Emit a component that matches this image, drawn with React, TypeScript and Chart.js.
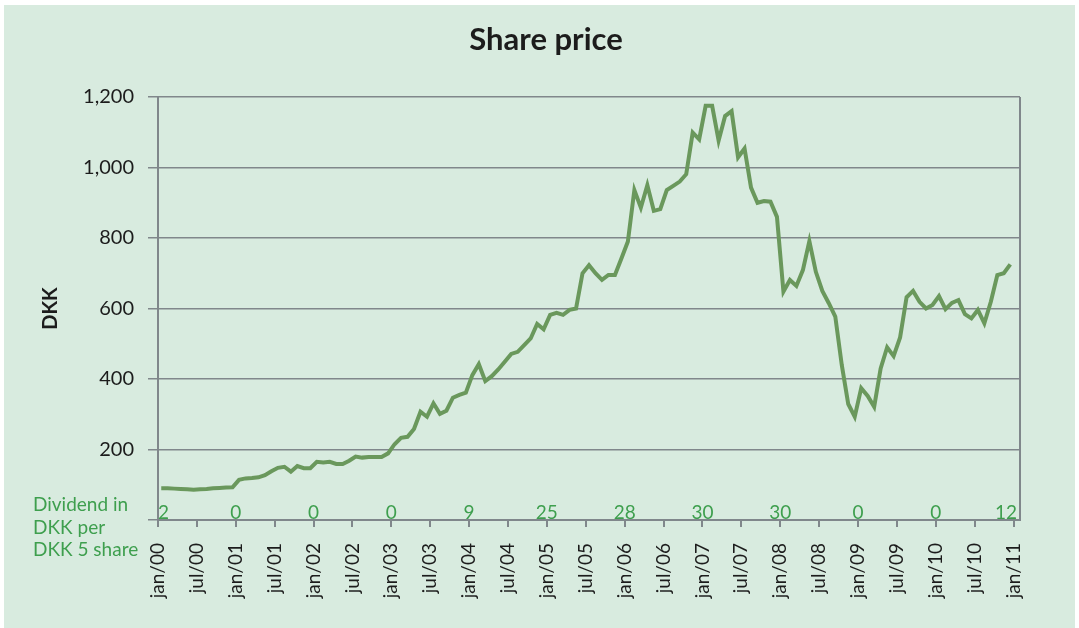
import React, { useEffect, useRef } from 'react';
import { Chart, registerables } from 'chart.js';

Chart.register(...registerables);

// ---- data ----
const tickLabels = [
  'jan/00', 'jul/00', 'jan/01', 'jul/01', 'jan/02', 'jul/02', 'jan/03', 'jul/03',
  'jan/04', 'jul/04', 'jan/05', 'jul/05', 'jan/06', 'jul/06', 'jan/07', 'jul/07',
  'jan/08', 'jul/08', 'jan/09', 'jul/09', 'jan/10', 'jul/10', 'jan/11',
];

const dividends = ['2', '0', '0', '0', '9', '25', '28', '30', '30', '0', '0', '12'];

const price2000 = [90, 90, 89, 88, 87, 86, 87, 88, 90, 91, 92, 93];
const price2001 = [114, 118, 119, 121, 127, 138, 148, 151, 137, 153, 147, 147];
const price2002 = [165, 163, 165, 159, 159, 168, 180, 177, 179, 179, 179, 189];
const price2003 = [215, 233, 236, 258, 307, 293, 331, 301, 310, 347, 355, 361];
const price2004 = [411, 442, 394, 408, 427, 449, 471, 477, 496, 515, 556, 541];
const price2005 = [582, 588, 582, 596, 600, 700, 723, 700, 681, 695, 695, 742];
const price2006 = [790, 936, 886, 950, 877, 882, 936, 948, 960, 981, 1099, 1080];
const price2007 = [1175, 1175, 1076, 1146, 1160, 1029, 1054, 943, 900, 905, 903, 860];
const price2008 = [648, 681, 664, 709, 791, 704, 650, 615, 577, 440, 329, 293];
const price2009 = [374, 352, 321, 430, 490, 465, 518, 632, 650, 619, 600, 610];
const price2010 = [635, 598, 616, 624, 584, 572, 596, 558, 619, 695, 700, 725];

const prices = [
  ...price2000, ...price2001, ...price2002, ...price2003, ...price2004, ...price2005,
  ...price2006, ...price2007, ...price2008, ...price2009, ...price2010,
];

const dividendCaption = ['Dividend in', 'DKK per', 'DKK 5 share'];

// ---- styles ----
const BG = '#d8ebdf';
const GRID = '#80878b';
const LINE = '#6a985c';
const GREEN_TEXT = '#3e9f4e';
const TEXT = '#1c1c1c';
const FONT = 'Lato';

export default function App() {
  const canvasRef = useRef<HTMLCanvasElement | null>(null);

  useEffect(() => {
    const canvas = canvasRef.current;
    if (!canvas) return;

    const overlay = {
      id: 'overlay',
      afterDraw(chart: any) {
        const { ctx, chartArea, scales } = chart;
        ctx.save();
        // right border
        ctx.strokeStyle = GRID;
        ctx.lineWidth = 2;
        ctx.beginPath();
        ctx.moveTo(chartArea.right, chartArea.top);
        ctx.lineTo(chartArea.right, chartArea.bottom);
        ctx.stroke();

        // title
        ctx.fillStyle = TEXT;
        ctx.font = `bold 31px ${FONT}`;
        ctx.textAlign = 'center';
        ctx.textBaseline = 'alphabetic';
        ctx.fillText('Share price', 542, 45);

        // dividends
        ctx.fillStyle = GREEN_TEXT;
        ctx.font = `19px ${FONT}`;
        ctx.textAlign = 'left';
        dividends.forEach((d, k) => {
          const x = scales.x.getPixelForValue(k * 12);
          const w = ctx.measureText(d).width;
          let left = x - w / 2;
          if (left < chartArea.left) left = chartArea.left;
          if (left + w > chartArea.right - 3) left = chartArea.right - 3 - w;
          ctx.fillText(d, left, chartArea.bottom - 1);
        });

        // caption
        dividendCaption.forEach((t, i) => {
          ctx.fillText(t, 29, 506 + i * 22.6);
        });
        ctx.restore();
      },
    };

    const chart = new Chart(canvas, {
      type: 'line',
      data: {
        datasets: [
          {
            data: prices.map((y, i) => ({ x: i + 0.5, y })),
            borderColor: LINE,
            borderWidth: 4,
            pointRadius: 0,
            tension: 0,
            fill: false,
          },
        ],
      },
      options: {
        animation: false,
        responsive: false,
        devicePixelRatio: 1,
        layout: { padding: { left: 0, top: 92, right: 55, bottom: 0 } },
        plugins: {
          legend: { display: false },
          title: { display: false },
          tooltip: { enabled: false },
        },
        scales: {
          x: {
            type: 'linear',
            min: 0,
            max: 133,
            afterFit(scale: any) {
              scale.height = 108;
            },
            ticks: {
              stepSize: 6,
              maxTicksLimit: 30,
              autoSkip: false,
              includeBounds: false,
              minRotation: 90,
              maxRotation: 90,
              padding: 16,
              color: TEXT,
              font: { family: FONT, size: 19 },
              callback: (v: any) => {
                const idx = Math.round(Number(v) / 6);
                return Number(v) % 6 === 0 ? tickLabels[idx] ?? '' : '';
              },
            },
            grid: {
              drawOnChartArea: false,
              drawTicks: true,
              tickLength: 7,
              color: GRID,
              lineWidth: 2,
            },
            border: { display: true, color: GRID, width: 2 },
          },
          y: {
            type: 'linear',
            min: 0,
            max: 1200,
            afterFit(scale: any) {
              scale.width = 154;
            },
            ticks: {
              stepSize: 200,
              padding: 14,
              color: TEXT,
              font: { family: FONT, size: 20 },
              callback: (v: any) => (Number(v) === 0 ? '' : Number(v).toLocaleString('en-US')),
            },
            grid: {
              drawOnChartArea: true,
              drawTicks: true,
              tickLength: 10,
              color: GRID,
              lineWidth: 1.5,
            },
            border: { display: true, color: GRID, width: 2 },
            title: {
              display: true,
              text: 'DKK',
              color: TEXT,
              font: { family: FONT, size: 20, weight: 'bold' },
              padding: { top: 35, bottom: 0 },
            },
          },
        },
      },
      plugins: [overlay],
    } as any);

    return () => chart.destroy();
  }, []);

  return (
    <div style={{ position: 'fixed', left: 0, top: 0, width: 1079, height: 628, background: '#ffffff' }}>
      <div style={{ position: 'absolute', left: 4, top: 5, width: 1071, height: 623, background: BG }}>
        <canvas ref={canvasRef} width={1071} height={623} style={{ display: 'block', width: 1071, height: 623 }} />
      </div>
    </div>
  );
}
